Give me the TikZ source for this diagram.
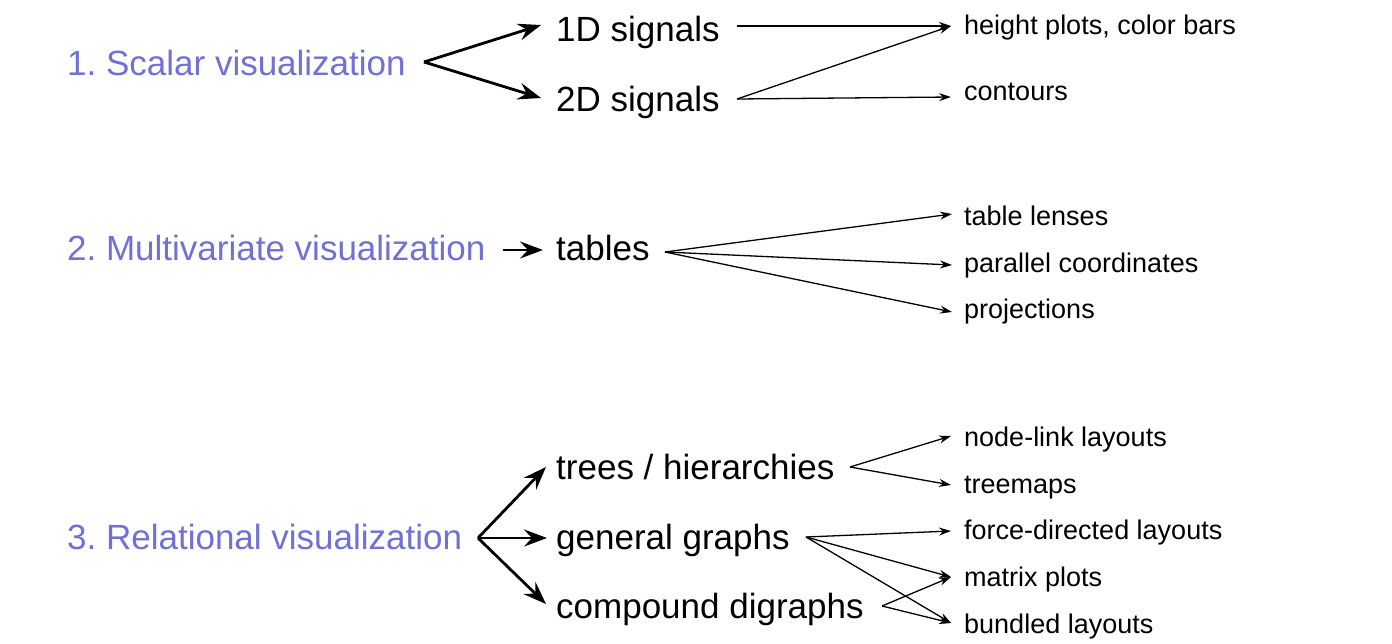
\documentclass[tikz,border=0pt]{standalone}
\usepackage{fontspec}
\setmainfont{Liberation Sans}
\usetikzlibrary{arrows.meta}
\definecolor{catblue}{RGB}{113,112,212}
\frenchspacing
\tikzset{
  cat/.style={anchor=base west, inner sep=0pt, text=catblue, font=\fontsize{35}{42}\selectfont},
  mid/.style={anchor=base west, inner sep=0pt, font=\fontsize{35}{42}\selectfont},
  leaf/.style={anchor=base west, inner sep=0pt, font=\fontsize{27}{32}\selectfont},
  thick arr/.style={line width=2.8pt, -{Stealth[length=23pt,width=17pt,inset=8pt]}},
  thin arr/.style={line width=1.3pt, -{Stealth[length=12pt,width=8pt,inset=4pt]}},
}
\begin{document}
\begin{tikzpicture}[x=1pt,y=-1pt]
\useasboundingbox (0,0) rectangle (1392,643);
% category nodes
\node[cat] (c1) at (67,75) {1. Scalar visualization};
\node[cat] (c2) at (67,260) {2. Multivariate visualization};
\node[cat] (c3) at (67,549) {3. Relational visualization};
% middle nodes
\node[mid] (d1) at (556,41) {1D signals};
\node[mid] (d2) at (556,111) {2D signals};
\node[mid] (tb) at (556,260) {tables};
\node[mid] (tr) at (556,479) {trees / hierarchies};
\node[mid] (gg) at (556,549) {general graphs};
\node[mid] (cd) at (556,618) {compound digraphs};
% leaf nodes
\node[leaf] (hp) at (964,34) {height plots, color bars};
\node[leaf] (ct) at (964,100) {contours};
\node[leaf] (tl) at (964,225) {table lenses};
\node[leaf] (pc) at (964,272) {parallel coordinates};
\node[leaf] (pj) at (964,318) {projections};
\node[leaf] (nl) at (964,446) {node-link layouts};
\node[leaf] (tm) at (964,493) {treemaps};
\node[leaf] (fd) at (964,539) {force-directed layouts};
\node[leaf] (mp) at (964,586) {matrix plots};
\node[leaf] (bl) at (964,633) {bundled layouts};
% connector points
\coordinate (c1o) at (424,62);
\coordinate (d1i) at (541,25);
\coordinate (d2i) at (541,98);
\coordinate (d1o) at (737,26);
\coordinate (d2o) at (737,99);
\coordinate (hpi) at (951,26);
\coordinate (cti) at (951,97);
\coordinate (c2o) at (503,250);
\coordinate (tbi) at (543,250);
\coordinate (tbo) at (665,252);
\coordinate (tli) at (952,214);
\coordinate (pci) at (952,265);
\coordinate (pji) at (952,312);
\coordinate (c3o) at (478,538);
\coordinate (tri) at (546,467);
\coordinate (ggi) at (547,538);
\coordinate (cdi) at (546,604);
\coordinate (tro) at (850,467);
\coordinate (ggo) at (806,537);
\coordinate (cdo) at (882,606);
\coordinate (nli) at (951,436);
\coordinate (tmi) at (951,485);
\coordinate (fdi) at (951,531);
\coordinate (mpi) at (951,577);
\coordinate (bli) at (951,623);
% connectors
\draw[thick arr] (c1o) -- (d1i);
\draw[thick arr] (c1o) -- (d2i);
\draw[thin arr] (d1o) -- (hpi);
\draw[thin arr] (d2o) -- (hpi);
\draw[thin arr] (d2o) -- (cti);
\draw[thick arr] (c2o) -- (tbi);
\draw[thin arr] (tbo) -- (tli);
\draw[thin arr] (tbo) -- (pci);
\draw[thin arr] (tbo) -- (pji);
\draw[thick arr] (c3o) -- (tri);
\draw[thick arr] (c3o) -- (ggi);
\draw[thick arr] (c3o) -- (cdi);
\draw[thin arr] (tro) -- (nli);
\draw[thin arr] (tro) -- (tmi);
\draw[thin arr] (ggo) -- (fdi);
\draw[thin arr] (ggo) -- (mpi);
\draw[thin arr] (ggo) -- (bli);
\draw[thin arr] (cdo) -- (mpi);
\draw[thin arr] (cdo) -- (bli);
\end{tikzpicture}
\end{document}
